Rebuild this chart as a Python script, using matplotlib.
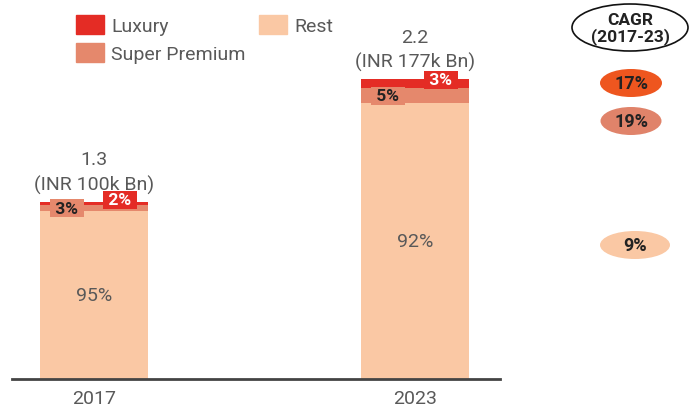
import matplotlib
matplotlib.use("Agg")
import matplotlib.pyplot as plt
from matplotlib.patches import Ellipse, Patch
import numpy as np

plt.rcParams['font.family'] = ['Roboto', 'DejaVu Sans']

years = ["2017", "2023"]
totals = [1.3, 2.2]
total_labels = ["1.3\n(INR 100k Bn)", "2.2\n(INR 177k Bn)"]
segments = ["Rest", "Super Premium", "Luxury"]
shares = {"Rest": [95, 92], "Super Premium": [3, 5], "Luxury": [2, 3]}
cagr_labels = {"Luxury": "17%", "Super Premium": "19%", "Rest": "9%"}

colors = {"Luxury": "#E42C25", "Super Premium": "#E5886C", "Rest": "#FAC8A4"}
cagr_colors = {"Luxury": "#EE561F", "Super Premium": "#E0836A", "Rest": "#FAC8A4"}
gray = "#595959"

fig = plt.figure(figsize=(6.89, 4.10), dpi=100)
ax = fig.add_axes([12/689, 30/410, 488/689, 380/410])
x = np.arange(len(years))
width = 0.336
bottoms = np.zeros(len(years))
seg_pos = {}
for s in segments:
    vals = np.array(totals) * np.array(shares[s]) / 100.0
    ax.bar(x, vals, width, bottom=bottoms, color=colors[s], edgecolor="none", label=s)
    seg_pos[s] = (bottoms.copy(), vals.copy())
    bottoms += vals

ax.set_xlim(-0.255, 1.265)
ax.set_ylim(0, 2.79)
for sp in ["top", "right", "left"]:
    ax.spines[sp].set_visible(False)
ax.spines["bottom"].set_color("#444444")
ax.spines["bottom"].set_linewidth(2)
ax.set_yticks([])
ax.set_xticks(x)
ax.set_xticklabels(years, fontsize=14, color=gray)
ax.tick_params(axis="x", length=0, pad=7)

# totals above bars
for i, t in enumerate(totals):
    ax.annotate(total_labels[i], (x[i], t), xytext=(0, 6), textcoords="offset points",
                ha="center", va="bottom", fontsize=14, color=gray, linespacing=1.4)

# Rest labels
for i in range(len(years)):
    b, v = seg_pos["Rest"]
    ax.text(x[i], b[i] + v[i] / 2, f"{shares['Rest'][i]}%", ha="center", va="center",
            fontsize=14, color=gray)

# Small segment labels
sp_off = [(-27, 0), (-27, 0)]
lx_off = [(26, 4), (26, 4)]
for i in range(len(years)):
    b, v = seg_pos["Super Premium"]
    ax.annotate(f" {shares['Super Premium'][i]}% ", (x[i], b[i] + v[i] / 2), xytext=sp_off[i],
                textcoords="offset pixels", ha="center", va="center", fontsize=12.5,
                fontweight="bold", color="#222222",
                bbox=dict(boxstyle="square,pad=0.08", fc=colors["Super Premium"], ec="none"))
    b, v = seg_pos["Luxury"]
    ax.annotate(f" {shares['Luxury'][i]}% ", (x[i], b[i] + v[i] / 2), xytext=lx_off[i],
                textcoords="offset pixels", ha="center", va="center", fontsize=12.5,
                fontweight="bold", color="white",
                bbox=dict(boxstyle="square,pad=0.08", fc=colors["Luxury"], ec="none"))

# Legend
handles = [Patch(color=colors["Luxury"], label="Luxury"),
           Patch(color=colors["Super Premium"], label="Super Premium"),
           Patch(color=colors["Rest"], label="Rest")]
leg = fig.legend(handles=handles, ncol=2, loc="upper left", bbox_to_anchor=(76/689, 1 - 16/410),
                 frameon=False, fontsize=14, handlelength=1.45, handleheight=1.15,
                 handletextpad=0.35, columnspacing=0.7, labelspacing=0.4,
                 borderpad=0, borderaxespad=0)
for t in leg.get_texts():
    t.set_color(gray)

# CAGR overlay
ov = fig.add_axes([0, 0, 1, 1])
ov.set_xlim(0, 689)
ov.set_ylim(410, 0)
ov.axis("off")
ov.add_patch(Ellipse((630, 28.5), 116, 47, fc="white", ec="#111111", lw=1.2))
ov.text(630, 29, "CAGR\n(2017-23)", ha="center", va="center", fontsize=12.5,
        fontweight="bold", color="#222222", linespacing=1.0)
cagr_pos = {"Luxury": (631, 84, 62), "Super Premium": (631, 122, 61), "Rest": (635, 246, 70)}
for s in ["Luxury", "Super Premium", "Rest"]:
    cx, cy, w = cagr_pos[s]
    ov.add_patch(Ellipse((cx, cy), w, 28, fc=cagr_colors[s], ec="none"))
    ov.text(cx, cy, cagr_labels[s], ha="center", va="center", fontsize=13,
            fontweight="bold", color="#222222")

fig.savefig("out.png", dpi=100, facecolor="white")
